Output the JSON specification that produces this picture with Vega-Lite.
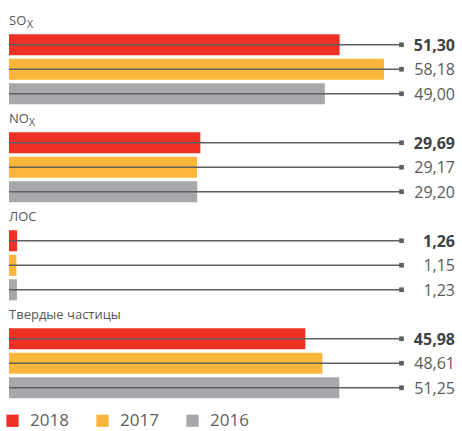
{
  "$schema": "https://vega.github.io/schema/vega-lite/v6.json",
  "width": 446,
  "height": 392,
  "autosize": "none",
  "padding": {"left": 9, "top": 8, "right": 7, "bottom": 31},
  "config": {
    "view": {"stroke": null},
    "font": "Open Sans",
    "text": {"font": "Open Sans"}
  },
  "datasets": {
    "bars": [
      {"group": "SOx", "row": "1a", "year": "2018", "value": 51.30, "label": "51,30"},
      {"group": "SOx", "row": "1b", "year": "2017", "value": 58.18, "label": "58,18"},
      {"group": "SOx", "row": "1c", "year": "2016", "value": 49.00, "label": "49,00"},
      {"group": "NOx", "row": "2a", "year": "2018", "value": 29.69, "label": "29,69"},
      {"group": "NOx", "row": "2b", "year": "2017", "value": 29.17, "label": "29,17"},
      {"group": "NOx", "row": "2c", "year": "2016", "value": 29.20, "label": "29,20"},
      {"group": "ЛОС", "row": "3a", "year": "2018", "value": 1.26, "label": "1,26"},
      {"group": "ЛОС", "row": "3b", "year": "2017", "value": 1.15, "label": "1,15"},
      {"group": "ЛОС", "row": "3c", "year": "2016", "value": 1.23, "label": "1,23"},
      {"group": "Твердые частицы", "row": "4a", "year": "2018", "value": 45.98, "label": "45,98"},
      {"group": "Твердые частицы", "row": "4b", "year": "2017", "value": 48.61, "label": "48,61"},
      {"group": "Твердые частицы", "row": "4c", "year": "2016", "value": 51.25, "label": "51,25"}
    ],
    "titles": [
      {"row": "1t", "title": "SO", "sub": "X"},
      {"row": "2t", "title": "NO", "sub": "X"},
      {"row": "3t", "title": "ЛОС", "sub": ""},
      {"row": "4t", "title": "Твердые частицы", "sub": ""}
    ]
  },
  "encoding": {
    "y": {
      "field": "row",
      "type": "nominal",
      "axis": null,
      "scale": {
        "domain": ["1t","1a","1b","1c","2t","2a","2b","2c","3t","3a","3b","3c","4t","4a","4b","4c"],
        "paddingInner": 0.14,
        "paddingOuter": 0.07
      }
    }
  },
  "layer": [
    {
      "data": {"name": "bars"},
      "mark": {"type": "bar"},
      "encoding": {
        "x": {"field": "value", "type": "quantitative", "axis": null, "scale": {"domain": [0, 69.2], "nice": false, "zero": true}},
        "color": {
          "field": "year",
          "type": "nominal",
          "scale": {"domain": ["2018", "2017", "2016"], "range": ["#EE3124", "#FBB53B", "#A7A8AB"]},
          "legend": {
            "title": null,
            "orient": "none",
            "legendX": -5,
            "legendY": 404,
            "direction": "horizontal",
            "symbolType": "square",
            "symbolSize": 150,
            "symbolStrokeWidth": 0,
            "labelFontSize": 17,
            "labelColor": "#606060",
            "labelFont": "Open Sans",
            "labelOffset": 9,
            "columnPadding": 25,
            "padding": 0
          }
        }
      }
    },
    {
      "data": {"name": "bars"},
      "mark": {"type": "rule", "color": "#5f5f5f", "strokeWidth": 1.3},
      "encoding": {
        "x": {"datum": 0, "type": "quantitative"},
        "x2": {"datum": 60.9}
      }
    },
    {
      "data": {"name": "bars"},
      "mark": {"type": "point", "shape": "square", "filled": true, "size": 22, "color": "#5f5f5f", "opacity": 1},
      "encoding": {
        "x": {"datum": 60.9, "type": "quantitative"}
      }
    },
    {
      "data": {"name": "bars"},
      "transform": [{"filter": "datum.year === '2018'"}],
      "mark": {"type": "text", "align": "right", "baseline": "middle", "fontSize": 16, "fontWeight": "bold", "color": "#404040", "dy": 1},
      "encoding": {
        "x": {"datum": 69.2, "type": "quantitative"},
        "text": {"field": "label"}
      }
    },
    {
      "data": {"name": "bars"},
      "transform": [{"filter": "datum.year !== '2018'"}],
      "mark": {"type": "text", "align": "right", "baseline": "middle", "fontSize": 16, "color": "#5a5a5a", "dy": 1},
      "encoding": {
        "x": {"datum": 69.2, "type": "quantitative"},
        "text": {"field": "label"}
      }
    },
    {
      "data": {"name": "titles"},
      "mark": {"type": "text", "align": "left", "baseline": "middle", "fontSize": 13, "color": "#555555", "dy": 1},
      "encoding": {
        "x": {"datum": 0, "type": "quantitative"},
        "text": {"field": "title"}
      }
    },
    {
      "data": {"name": "titles"},
      "transform": [{"filter": "datum.row === '1t'"}],
      "mark": {"type": "text", "align": "left", "baseline": "middle", "fontSize": 10.5, "color": "#555555", "dx": 18, "dy": 4.5},
      "encoding": {
        "x": {"datum": 0, "type": "quantitative"},
        "text": {"field": "sub"}
      }
    },
    {
      "data": {"name": "titles"},
      "transform": [{"filter": "datum.row === '2t'"}],
      "mark": {"type": "text", "align": "left", "baseline": "middle", "fontSize": 10.5, "color": "#555555", "dx": 20, "dy": 4.5},
      "encoding": {
        "x": {"datum": 0, "type": "quantitative"},
        "text": {"field": "sub"}
      }
    }
  ]
}
